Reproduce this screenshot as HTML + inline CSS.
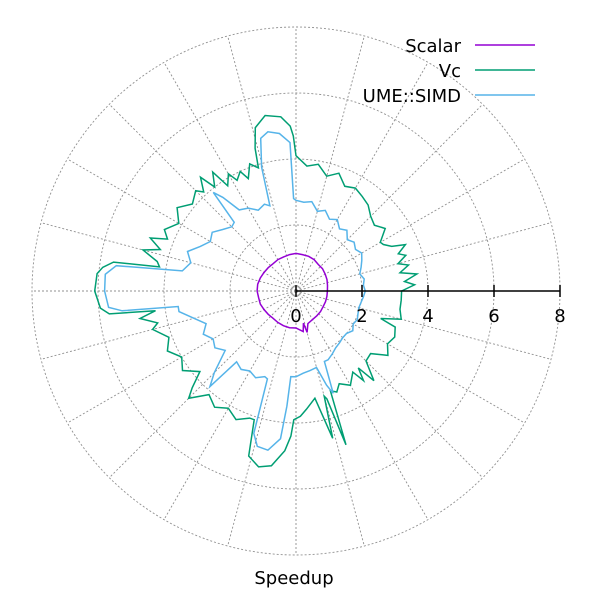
<!DOCTYPE html>
<html><head><meta charset="utf-8"><style>
html,body{margin:0;padding:0;background:#fff}
svg{display:block;font-family:"DejaVu Sans","Liberation Sans",sans-serif}
</style></head><body>
<svg id="chart" width="600" height="600" viewBox="0 0 600 600">
<g id="grid"></g>
<g id="series"></g>
<g id="axis"></g>
<g font-size="18" text-anchor="end">
 <g><text x="461" y="52" fill="#000">Scalar</text><line x1="475" y1="45" x2="535" y2="45" stroke="#9400d3" stroke-width="1.5"/></g>
 <g><text x="461" y="77" fill="#000">Vc</text><line x1="475" y1="70" x2="535" y2="70" stroke="#009e73" stroke-width="1.5"/></g>
 <g><text x="461" y="102" fill="#000">UME::SIMD</text><line x1="475" y1="95" x2="535" y2="95" stroke="#56b4e9" stroke-width="1.5"/></g>
</g>
<text x="294" y="584" font-size="18" text-anchor="middle">Speedup</text>
</svg>
<script>
const radialTicks=[0,2,4,6,8];
const spokeAngles=[0,15,30,45,60,75,90,105,120,135,150,165,180,195,210,225,240,255,270,285,300,315,330,345];
const scalarAngles=[0,10,20,30,40,50,60,70,80,90,100,110,120,130,140,150,160,170,180,190,200,210,220,230,240,250,260,270,280,283,285,290,300,310,320,330,340,350];
const scalarValues=[0.95,0.97,1.0,1.02,1.05,1.05,1.1,1.12,1.12,1.14,1.12,1.1,1.1,1.08,1.1,1.12,1.15,1.18,1.18,1.15,1.15,1.12,1.1,1.08,1.1,1.12,1.13,1.12,1.25,1.0,1.3,1.05,1.0,0.98,0.97,0.95,0.95,0.95];
const vcAngles=[0,3,5,8,10,13,15,18,20,23,25,28,30,35,40,45,50,55,60,65,70,75,80,85,90,91,92,95,100,104,106,107,110,113,115,118,120,123,125,128,130,133,135,140,145,150,155,158,160,163,165,168,170,171,173,175,180,185,187,188,190,193,195,200,205,210,215,220,223,225,230,235,240,245,250,252,254,258,262,266,268,269,272,275,280,284,285,286,288,289,292,295,300,305,307,309,311,315,320,325,330,335,340,342,345,350,355];
const vcValues=[3.2,3.6,3.3,3.7,3.2,3.5,3.2,3.5,3.3,3.6,3.2,3.0,2.95,3.3,3.1,3.2,3.4,3.5,3.6,3.5,3.8,3.6,3.9,3.8,4.1,4.7,5.0,5.3,5.4,5.1,4.5,3.9,4.1,3.7,4.0,3.8,4.1,3.8,4.4,4.0,4.5,4.1,4.3,4.1,4.4,4.1,4.4,4.2,4.7,4.3,4.8,4.3,4.2,5.6,5.9,6.05,6.1,5.95,5.7,4.3,4.8,4.3,4.5,4.1,4.3,4.0,4.2,3.8,4.3,4.6,4.1,4.3,4.1,4.3,4.1,4.1,5.2,5.45,5.35,4.85,4.4,3.9,3.8,3.6,3.3,4.6,3.3,3.4,4.9,3.2,3.3,3.1,3.3,3.0,3.4,3.0,3.6,3.0,2.95,3.4,3.2,3.3,3.2,2.7,3.3,3.2,3.2];
const umeAngles=[0,5,10,15,20,25,30,35,40,45,50,55,60,65,70,75,80,85,90,91.5,92.3,96,100,103,105.5,107,110,115,120,125,128,130,132,135,140,145,150,155,160,165,170,172,175,180,185,186.5,187.5,190,195,200,205,210,215,220,225,228,230,235,240,245,250,252,253.5,256,260,264,265.5,266.5,270,275,280,285,288,290,292,295,300,305,310,315,320,325,330,335,340,345,350,355];
const umeValues=[2.1,2.05,2.1,2.0,2.1,2.2,2.3,2.2,2.3,2.2,2.4,2.3,2.5,2.4,2.6,2.5,2.75,2.7,2.75,2.8,4.5,4.8,4.9,4.75,3.9,2.7,2.8,2.7,2.9,3.0,3.6,3.9,2.8,2.75,2.9,3.1,3.0,3.2,3.5,3.3,3.5,5.5,5.8,5.8,5.7,5.3,3.6,3.6,3.2,2.9,3.1,2.9,3.0,2.8,3.5,3.9,2.8,2.9,2.8,2.9,2.76,2.8,4.5,4.85,4.9,4.5,3.5,2.6,2.6,2.5,2.45,2.4,3.0,3.3,2.3,2.3,2.2,2.1,2.05,2.0,2.0,2.1,2.0,2.05,2.0,1.97,2.0,2.05];

const NS="http://www.w3.org/2000/svg";
const cx=296, cy=291, rMax=8, rPx=264;
function rScale(v){return v/rMax*rPx;}
function px(a,v){return cx+rScale(v)*Math.cos(a*Math.PI/180);}
function py(a,v){return cy-rScale(v)*Math.sin(a*Math.PI/180);}
function mk(tag,attrs,parent){const e=document.createElementNS(NS,tag);for(const k in attrs)e.setAttribute(k,attrs[k]);parent.appendChild(e);return e;}

const grid=document.getElementById('grid');
spokeAngles.forEach(a=>{
  const l=mk('line',{x1:cx,y1:cy,x2:px(a,rMax),y2:py(a,rMax),stroke:'#909090','stroke-width':0.9,'stroke-dasharray':'2,2'},grid);
  
  
});
radialTicks.slice(1).forEach(t=>{
  const c=mk('circle',{cx:cx,cy:cy,r:rScale(t),fill:'none',stroke:'#909090','stroke-width':0.9,'stroke-dasharray':'2,2'},grid);
  
  
});

const series=document.getElementById('series');
function drawSeries(angles,values,color,name){
  const pts=angles.map((a,i)=>px(a,values[i]).toFixed(1)+','+py(a,values[i]).toFixed(1)).join(' ');
  const p=mk('polygon',{points:pts,fill:'none',stroke:color,'stroke-width':1.5,'stroke-linejoin':'miter'},series);
  
  
}
drawSeries(vcAngles,vcValues,'#009e73','series-vc');
drawSeries(umeAngles,umeValues,'#56b4e9','series-ume-simd');
drawSeries(scalarAngles,scalarValues,'#9400d3','series-scalar');

const axis=document.getElementById('axis');
const al=mk('line',{x1:cx,y1:cy,x2:px(0,rMax),y2:cy,stroke:'#000','stroke-width':1.5},axis);


radialTicks.forEach(t=>{
  const x=px(0,t);
  const tk=mk('line',{x1:x,y1:cy-6,x2:x,y2:cy+6,stroke:'#000','stroke-width':1.5},axis);
  
  
  const tx=mk('text',{x:x,y:cy+31,'font-size':18,'text-anchor':'middle',fill:'#000'},axis);
  tx.textContent=String(t);
  
  
});
</script>
</body></html>
